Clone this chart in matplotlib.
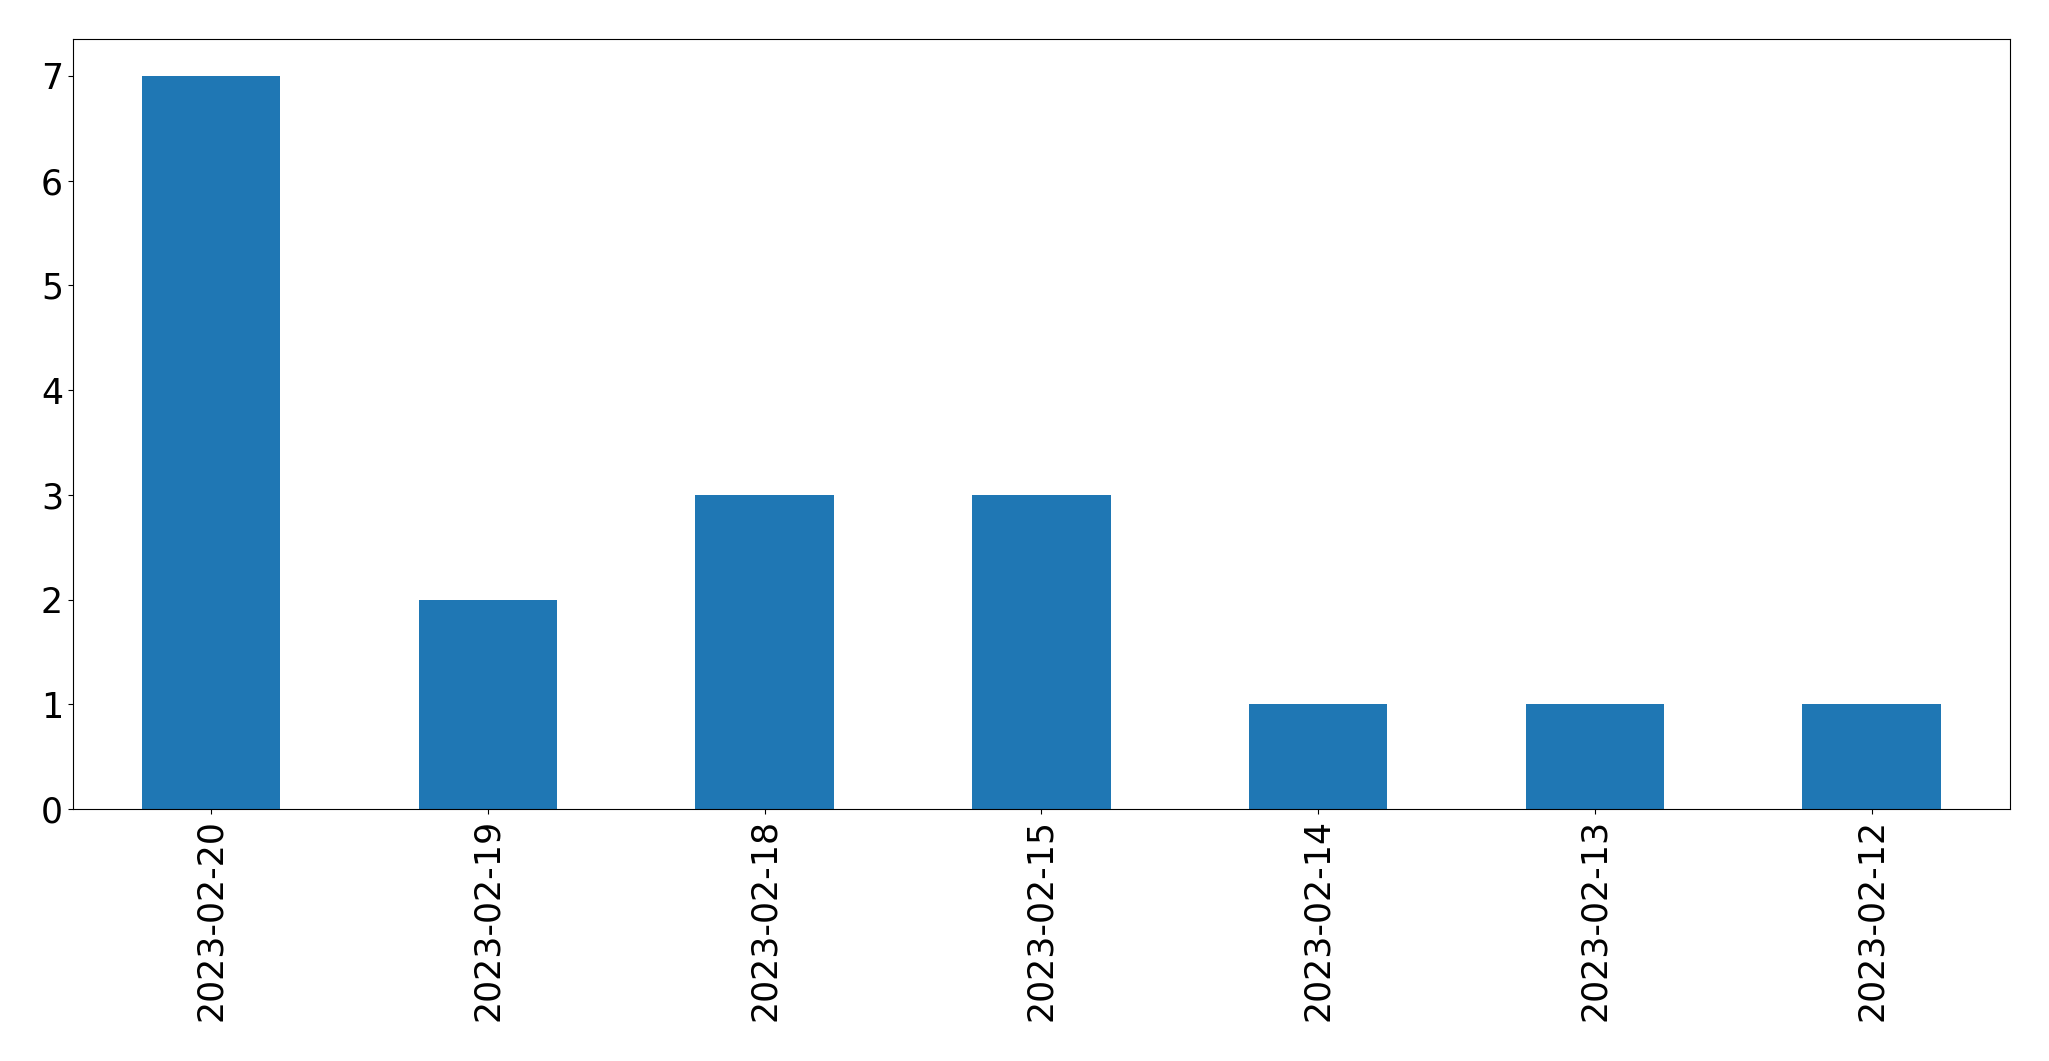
import matplotlib
matplotlib.use('Agg')
import matplotlib.pyplot as plt
import pandas as pd

dates = ['2023-02-20', '2023-02-19', '2023-02-18', '2023-02-15',
         '2023-02-14', '2023-02-13', '2023-02-12']
counts = [7, 2, 3, 3, 1, 1, 1]

s = pd.Series(counts, index=dates)

fig = plt.figure(figsize=(20.49, 10.61), dpi=100)
ax = fig.add_axes([0.0355, 0.2375, 0.9455, 0.7255])
s.plot(kind='bar', ax=ax, color='#1f77b4', fontsize=25)
ax.set_xlabel('')

fig.savefig('out.png', dpi=100)
